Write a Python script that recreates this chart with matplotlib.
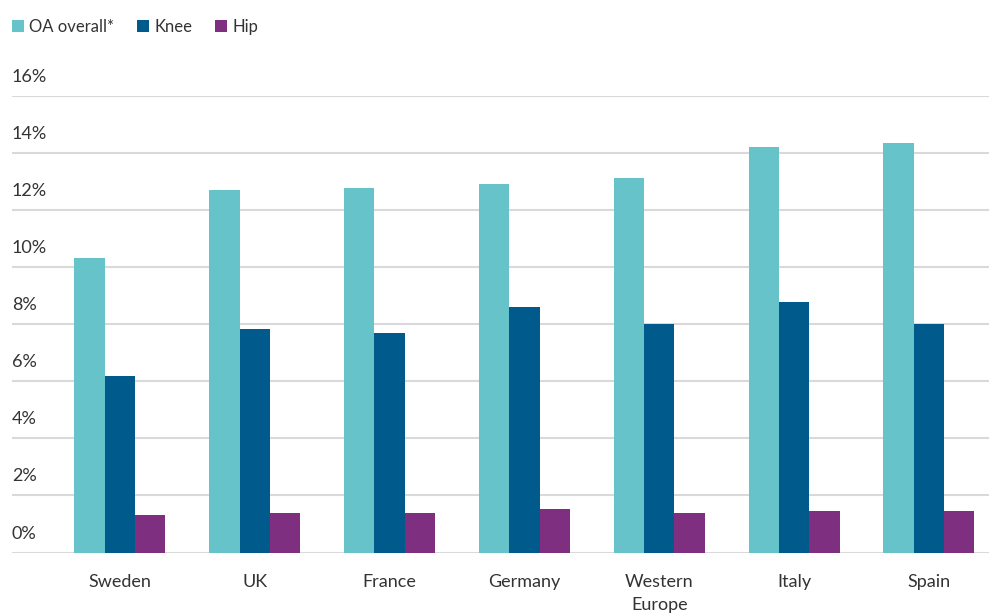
import matplotlib
matplotlib.use("Agg")
import matplotlib.pyplot as plt
import matplotlib.transforms as mtransforms
import numpy as np

# values (percent)
countries = ["Sweden", "UK", "France", "Germany", "Western\nEurope", "Italy", "Spain"]
oa_overall = [10.3, 12.7, 12.75, 12.9, 13.1, 14.18, 14.34]
knee = [6.19, 7.81, 7.67, 8.6, 7.99, 8.77, 7.99]
hip = [1.31, 1.38, 1.39, 1.53, 1.38, 1.46, 1.46]
series_names = ["OA overall*", "Knee", "Hip"]
y_ticks = [0, 2, 4, 6, 8, 10, 12, 14, 16]

colors = ["#66c3c9", "#005a8c", "#7f2f7f"]
text_col = "#333333"
grid_col = "#d9d9d9"

plt.rcParams["font.family"] = ["Lato", "DejaVu Sans"]

fig = plt.figure(figsize=(9.89, 6.14), dpi=100)
ax = fig.add_axes([12 / 989, 1 - 552.5 / 614, 1 - 12 / 989, (552.5 - 95.5) / 614])

x = np.arange(len(countries))
w = 0.225
for i, (vals, name) in enumerate(zip([oa_overall, knee, hip], series_names)):
    ax.bar(x + (i - 1) * w, vals, w, color=colors[i], label=name, zorder=3)

ax.set_xlim(-0.80, len(countries) - 1 + 0.446)
ax.set_ylim(0, 16)
ax.set_yticks(y_ticks)
ax.yaxis.grid(True, color=grid_col, linewidth=1.5, zorder=0)
ax.tick_params(axis="y", length=0, labelleft=False)
ax.set_xticks(x)
ax.set_xticklabels(countries, fontsize=13, color=text_col, linespacing=1.55)
ax.tick_params(axis="x", length=0, pad=15.5)
for s in ax.spines.values():
    s.set_visible(False)

# y labels sit above their gridline, flush left
offset = mtransforms.ScaledTranslation(0, 10 / 72, fig.dpi_scale_trans)
trans = mtransforms.blended_transform_factory(fig.transFigure, ax.transData) + offset
for t in y_ticks:
    ax.text(12 / 989, t, f"{t}%", transform=trans, ha="left", va="baseline",
            fontsize=13, color=text_col)

leg = fig.legend(loc="upper left", bbox_to_anchor=(5 / 989, 1 - 12 / 614), ncol=3,
                 frameon=False, fontsize=12, handlelength=0.75, handleheight=0.75,
                 handletextpad=0.3, columnspacing=1.35, borderaxespad=0)
for t in leg.get_texts():
    t.set_color(text_col)

fig.savefig("out.png", dpi=100)
